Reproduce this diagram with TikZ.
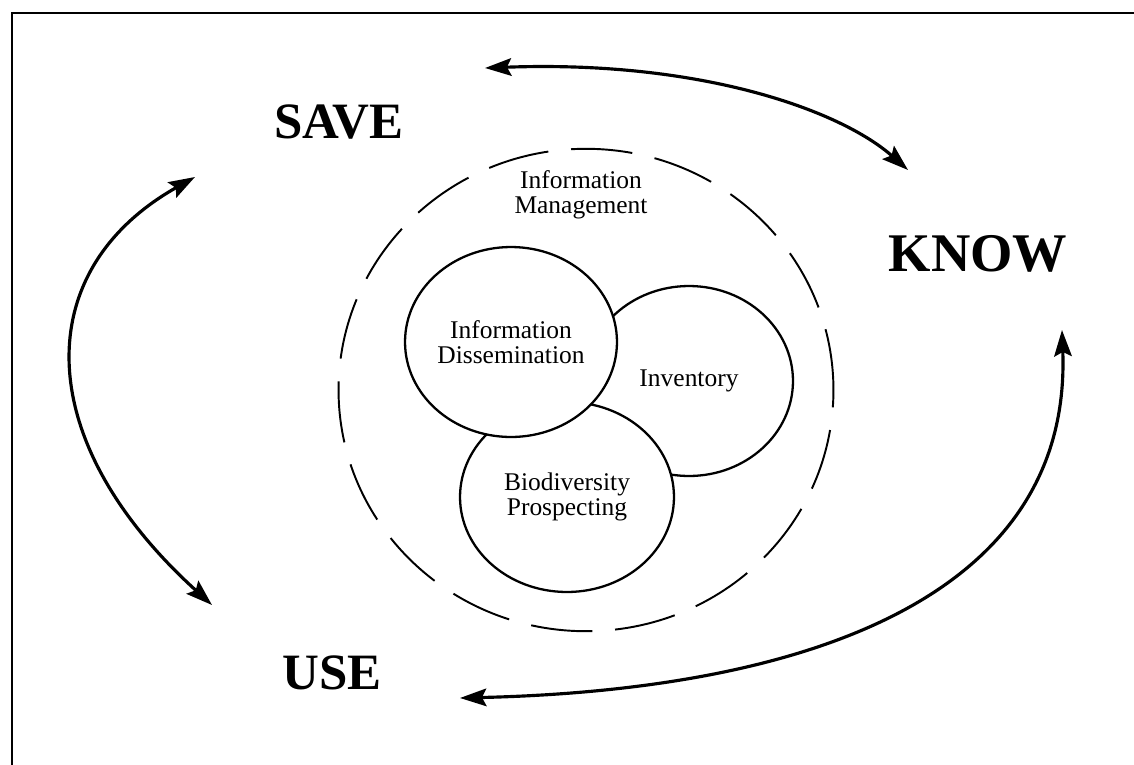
\documentclass[tikz,border=0pt]{standalone}
\usepackage{fontspec}
\setmainfont{Liberation Serif}
\usetikzlibrary{arrows.meta,shapes.geometric}

\begin{document}
\begin{tikzpicture}[x=0.02cm,y=-0.02cm,
	big/.style={font=\fontsize{29}{33}\selectfont\bfseries},
	sm/.style={font=\fontsize{14.5}{14}\selectfont,align=center},
	blob/.style={ellipse,draw,line width=1.3pt,fill=white,inner sep=0pt,minimum height=3.8cm,sm},
	cyc/.style={line width=1.8pt,{Stealth[length=15pt,width=10pt,inset=2.5pt]}-{Stealth[length=15pt,width=10pt,inset=2.5pt]}}]
	\useasboundingbox (0,0) rectangle (1134,765);
	\draw[line width=1.1pt] (12,765)--(12,13)--(1134,13);
	% the three words
	\node[big] (save) at (339,122) {SAVE};
	\node[big,font=\fontsize{31}{35}\selectfont\bfseries] (know) at (978,254) {KNOW};
	\node[big] (use) at (332,673) {USE};
	% dashed ring and its label
	\node[ellipse,draw,dash pattern=on 35pt off 13pt,line width=1.1pt,minimum width=9.9cm,minimum height=9.65cm] (mgmt) at (586,390) {};
	\node[sm] (mgmtlbl) at (581,195) {Information\\Management};
	% overlapping blobs, back to front
	\node[blob,minimum width=4.16cm] (inv) at (689,381) {Inventory};
	\node[blob,minimum width=4.28cm] (bio) at (567,497) {Biodiversity\\Prospecting};
	\node[blob,minimum width=4.24cm] (diss) at (511,342) {Information\\Dissemination};
	% arrow ends
	\coordinate (s1) at (485,68); \coordinate (k1) at (908,170);
	\coordinate (s2) at (195,177); \coordinate (u2) at (212,605);
	\coordinate (k3) at (1062,330); \coordinate (u3) at (460,698);
	\draw[cyc] (s1) .. controls (700,60) and (840,110) .. (k1);
	\draw[cyc] (s2) .. controls (30,270) and (30,440) .. (u2);
	\draw[cyc] (u3) .. controls (800,690) and (1072,600) .. (k3);
\end{tikzpicture}
\end{document}
